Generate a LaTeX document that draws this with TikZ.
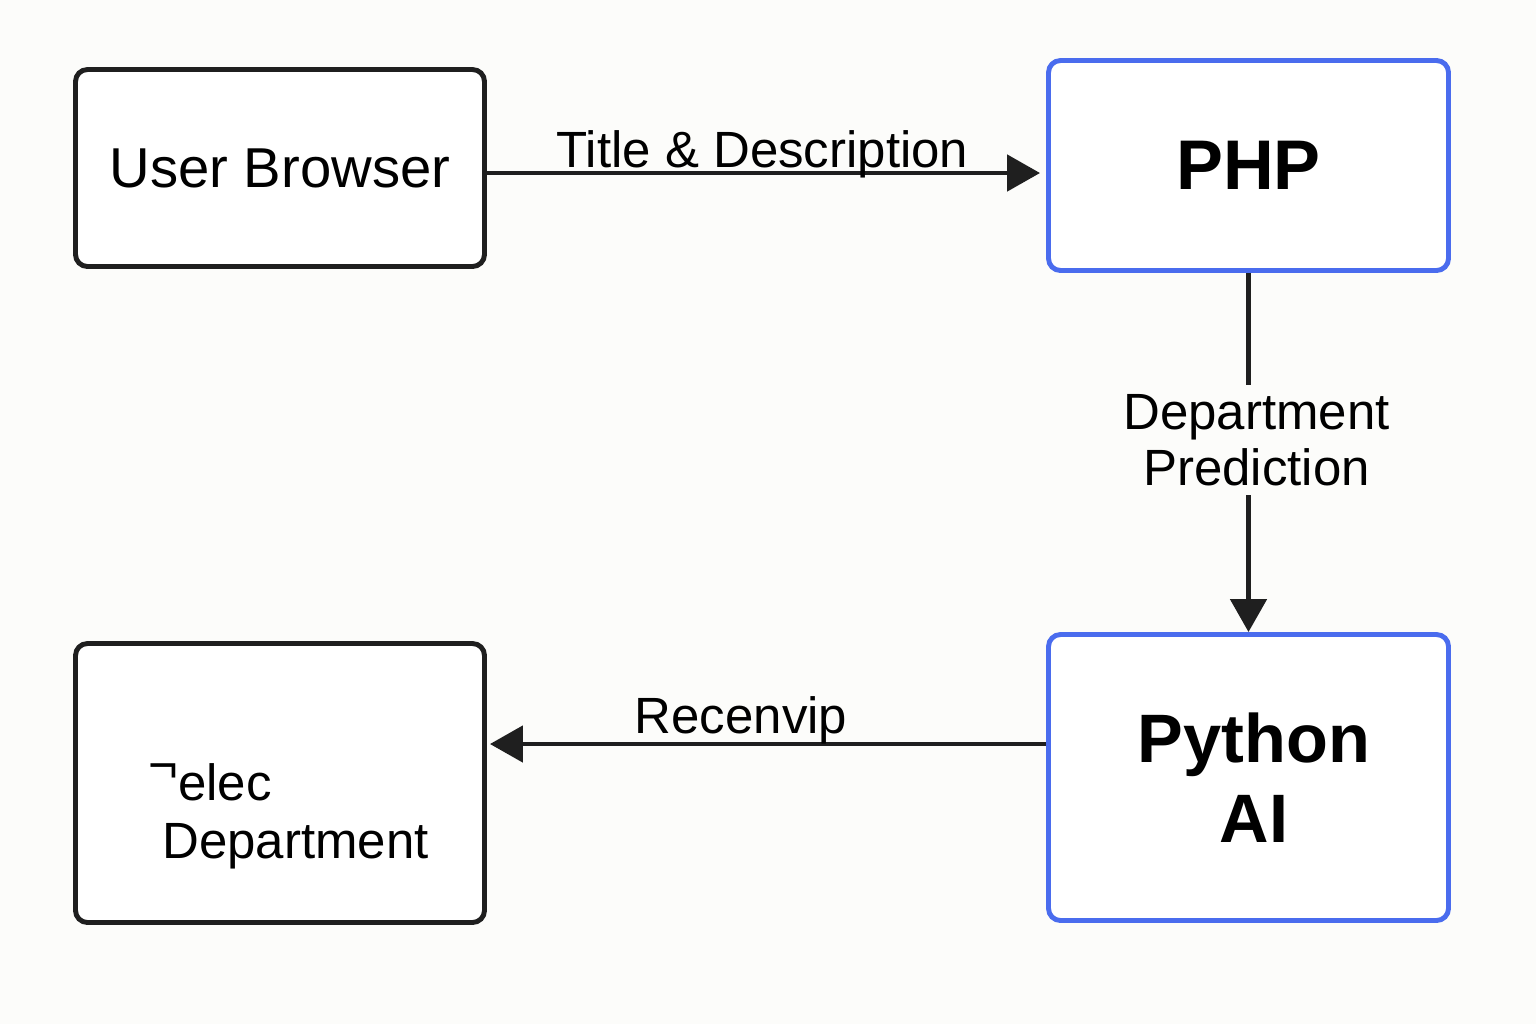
\documentclass[tikz,border=0pt]{standalone}
\usepackage{fontspec}
\setmainfont{Liberation Sans}
\usetikzlibrary{arrows.meta,calc,positioning}
\definecolor{colorBG}{RGB}{252,252,250}
\definecolor{colorSRV}{RGB}{74,108,238}
\colorlet{colorEDGE}{black!88}
\tikzset{
   every path/.style={>={Triangle[length=0.66cm,width=0.72cm]}},
   flow/.style={->,draw=colorEDGE,line width=2.8pt},
}

\begin{document}
\begin{tikzpicture}[
    box/.style={draw=colorEDGE, fill=white, rounded corners=0.24cm, line width=2.8pt,
                font=\fontsize{32}{38}\selectfont, align=center},
    srv/.style={box, draw=colorSRV, font=\bfseries\fontsize{40}{46}\selectfont},
    lbl/.style={font=\fontsize{29}{32}\selectfont, align=center},
]
\fill[colorBG] (0,0) rectangle (30.72,-20.48);
\useasboundingbox (0,0) rectangle (30.72,-20.48);

% ------------------------------------------------------------
% Boxes
% ------------------------------------------------------------
\node[box, minimum width=8.18cm, minimum height=3.94cm] (ub) at (5.6,-3.36) {User Browser};
\node[srv, minimum width=8.0cm, minimum height=4.2cm] (php) at (24.97,-3.31) {PHP};
\node[srv, minimum width=8.0cm, minimum height=5.72cm,
      font=\bfseries\fontsize{39}{45.5}\selectfont] (py) at (24.97,-15.55) {\hspace*{0.22cm}Python\\\hspace*{0.22cm}AI};
\node[box, minimum width=8.18cm, minimum height=5.58cm] (sel) at (5.6,-15.66) {};
\node[lbl, align=left, anchor=west, inner sep=0pt, font=\fontsize{29}{33}\selectfont]
      (seltxt) at ([shift={(-2.64,-0.66)}]sel.center) {\raisebox{0.35em}{¬}elec\\\hspace*{0.28cm}Department};

% ------------------------------------------------------------
% Flows
% ------------------------------------------------------------
\coordinate (req) at ($(ub.east)+(0,-0.1)$);
\draw[flow, shorten >=0.12cm] (req) -- (req -| php.west)
    node[lbl, midway, anchor=base, yshift=0.12cm, xshift=-0.08cm] {Title \& Description};

\draw[flow] (php.south) -- (py.north)
    node[lbl, pos=0.465, fill=colorBG, xshift=0.16cm, inner sep=5pt] {Department\\Prediction};

\coordinate (recv) at ($(py.west)+(0,0.67)$);
\draw[flow, shorten >=0.06cm] (recv) -- (recv -| sel.east)
    node[lbl, midway, anchor=base, yshift=0.22cm, xshift=-0.51cm] {Recenvip};
\end{tikzpicture}
\end{document}
